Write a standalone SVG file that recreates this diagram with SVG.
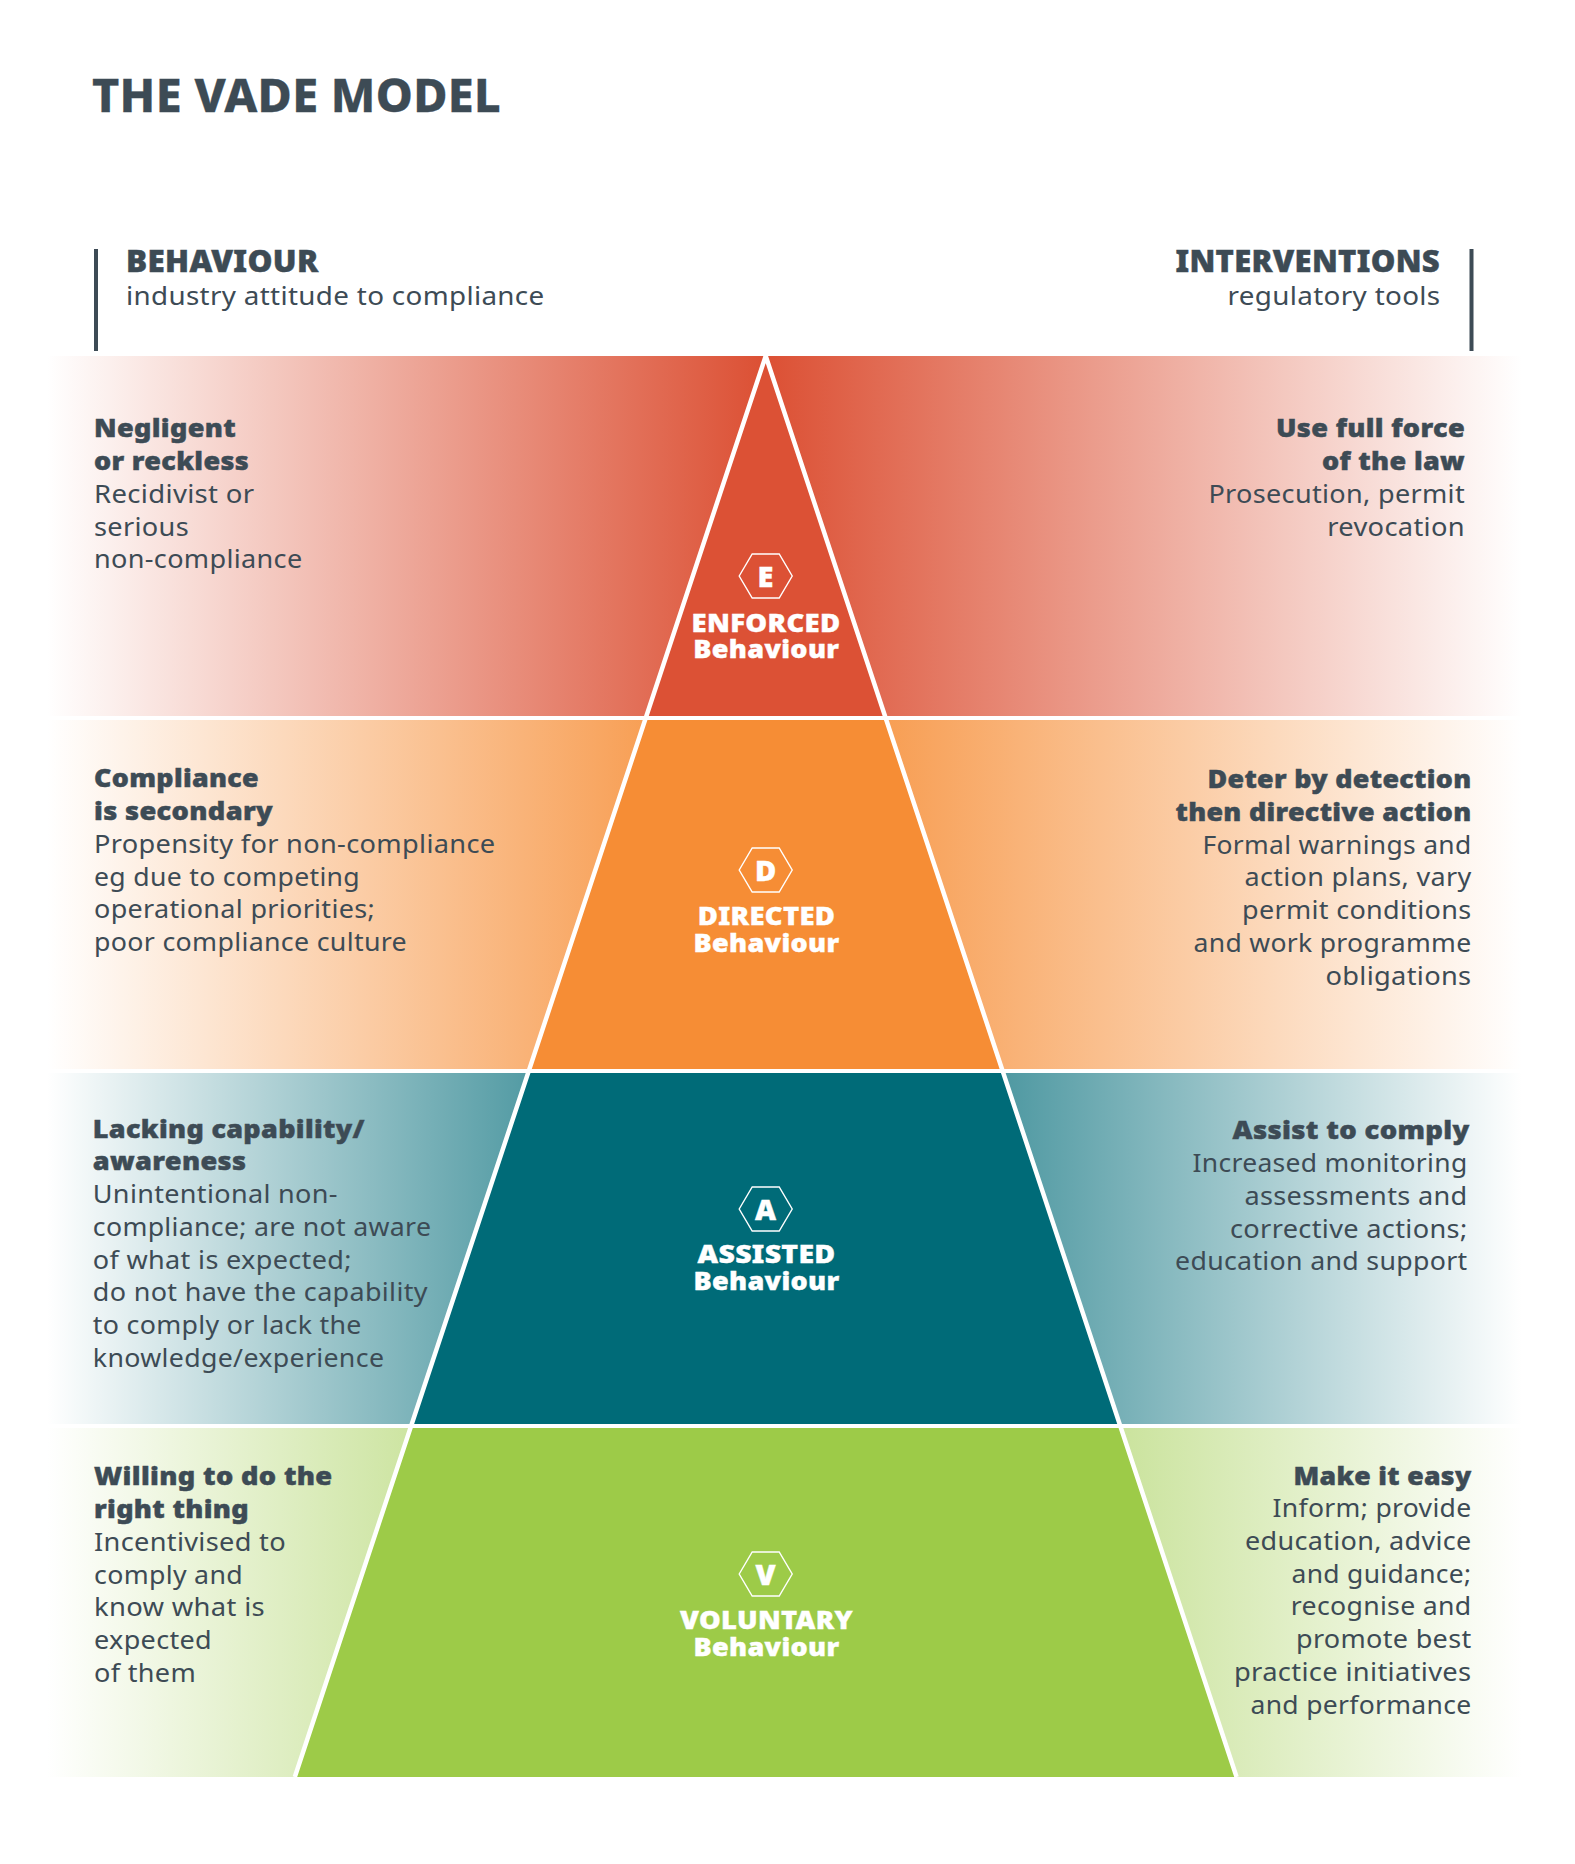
<svg xmlns="http://www.w3.org/2000/svg" width="1575" height="1864" viewBox="0 0 1575 1864">
<style>
text{font-family:"Noto Sans","Open Sans","Liberation Sans",sans-serif;fill:#3d4b55;font-size:25px;letter-spacing:.3px}
.h{font-weight:900;stroke:#3d4b55;stroke-width:.45px}
.e{text-anchor:end}
.c{text-anchor:middle;fill:#fff;stroke:#fff;stroke-width:.4px;font-weight:900;font-size:25.5px}
.l{font-size:29px}
.hex{fill:none;stroke:#fff;stroke-width:1.4}
</style>
<defs>
<linearGradient id="rl" gradientUnits="userSpaceOnUse" x1="47" x2="760" y1="0" y2="0"><stop offset="0" stop-color="#dc5135" stop-opacity="0"/><stop offset="1" stop-color="#dc5135"/></linearGradient>
<linearGradient id="rr" gradientUnits="userSpaceOnUse" x1="1522" x2="771" y1="0" y2="0"><stop offset="0" stop-color="#dc5135" stop-opacity="0"/><stop offset="1" stop-color="#dc5135"/></linearGradient>
<linearGradient id="ol" gradientUnits="userSpaceOnUse" x1="47" x2="760" y1="0" y2="0"><stop offset="0" stop-color="#f68d35" stop-opacity="0"/><stop offset="1" stop-color="#f68d35"/></linearGradient>
<linearGradient id="or" gradientUnits="userSpaceOnUse" x1="1522" x2="771" y1="0" y2="0"><stop offset="0" stop-color="#f68d35" stop-opacity="0"/><stop offset="1" stop-color="#f68d35"/></linearGradient>
<linearGradient id="tl" gradientUnits="userSpaceOnUse" x1="47" x2="760" y1="0" y2="0"><stop offset="0" stop-color="#006b78" stop-opacity="0"/><stop offset="1" stop-color="#006b78"/></linearGradient>
<linearGradient id="tr" gradientUnits="userSpaceOnUse" x1="1522" x2="771" y1="0" y2="0"><stop offset="0" stop-color="#006b78" stop-opacity="0"/><stop offset="1" stop-color="#006b78"/></linearGradient>
<linearGradient id="gl" gradientUnits="userSpaceOnUse" x1="47" x2="760" y1="0" y2="0"><stop offset="0" stop-color="#9dcb48" stop-opacity="0"/><stop offset="1" stop-color="#9dcb48"/></linearGradient>
<linearGradient id="gr" gradientUnits="userSpaceOnUse" x1="1522" x2="771" y1="0" y2="0"><stop offset="0" stop-color="#9dcb48" stop-opacity="0"/><stop offset="1" stop-color="#9dcb48"/></linearGradient>
<polygon id="hx" class="hex" points="-26.5,0 -13.5,-22 13.5,-22 26.5,0 13.5,22 -13.5,22"/>
</defs>
<rect width="1575" height="1864" fill="#fff"/>
<text id="title" x="92" y="112" style="font-size:46px;font-weight:800;stroke:#3d4b55;stroke-width:.3px" textLength="409" lengthAdjust="spacingAndGlyphs">THE VADE MODEL</text>
<g id="header-behaviour">
<rect x="94" y="249" width="4" height="102" fill="#3d4b55"/>
<text class="h" x="126" y="272" style="font-size:30.5px" textLength="192.5" lengthAdjust="spacingAndGlyphs">BEHAVIOUR</text>
<text x="126" y="305" textLength="418.5" lengthAdjust="spacingAndGlyphs">industry attitude to compliance</text>
</g>
<g id="header-interventions">
<rect x="1469.5" y="249" width="4" height="102" fill="#3d4b55"/>
<text class="h e" x="1440" y="272" style="font-size:30.5px" textLength="264.5" lengthAdjust="spacingAndGlyphs">INTERVENTIONS</text>
<text class="e" x="1440.5" y="304.5" textLength="213" lengthAdjust="spacingAndGlyphs">regulatory tools</text>
</g>
<g id="enforced">
<rect x="47" y="356" width="719" height="360" fill="url(#rl)"/>
<rect x="766" y="356" width="756" height="360" fill="url(#rr)"/>
<polygon points="765.7,356 884.9,716 646.5,716" fill="#dc5135"/>
<use href="#hx" x="765.7" y="576"/>
<text class="c" x="765.7" y="586.8" style="font-size:29px">E</text>
<text class="c" x="766" y="631.5" textLength="149" lengthAdjust="spacingAndGlyphs">ENFORCED</text>
<text class="c" x="766.3" y="658" textLength="146" lengthAdjust="spacingAndGlyphs">Behaviour</text>
<text class="h" x="94" y="437" textLength="142" lengthAdjust="spacingAndGlyphs">Negligent</text>
<text class="h" x="94" y="469.5" textLength="155" lengthAdjust="spacingAndGlyphs">or reckless</text>
<text x="94" y="502.5" textLength="160.5" lengthAdjust="spacingAndGlyphs">Recidivist or</text>
<text x="94" y="535.5" textLength="95" lengthAdjust="spacingAndGlyphs">serious</text>
<text x="94" y="568" textLength="208.5" lengthAdjust="spacingAndGlyphs">non-compliance</text>
<text class="h e" x="1465" y="437" textLength="189" lengthAdjust="spacingAndGlyphs">Use full force</text>
<text class="h e" x="1465" y="469.5" textLength="143" lengthAdjust="spacingAndGlyphs">of the law</text>
<text class="e" x="1465" y="502.5" textLength="256.6" lengthAdjust="spacingAndGlyphs">Prosecution, permit</text>
<text class="e" x="1465" y="535.5" textLength="137.8" lengthAdjust="spacingAndGlyphs">revocation</text>
</g>
<g id="directed">
<rect x="47" y="720" width="719" height="349" fill="url(#ol)"/>
<rect x="766" y="720" width="756" height="349" fill="url(#or)"/>
<polygon points="645.2,720 886.2,720 1001.7,1069 529.7,1069" fill="#f68d35"/>
<use href="#hx" x="765.7" y="870"/>
<text class="c" x="765.7" y="880.5" style="font-size:29px">D</text>
<text class="c" x="766.5" y="924.8" textLength="137.5" lengthAdjust="spacingAndGlyphs">DIRECTED</text>
<text class="c" x="766.5" y="951.5" textLength="146" lengthAdjust="spacingAndGlyphs">Behaviour</text>
<text class="h" x="94" y="787" textLength="165" lengthAdjust="spacingAndGlyphs">Compliance</text>
<text class="h" x="94" y="820" textLength="179" lengthAdjust="spacingAndGlyphs">is secondary</text>
<text x="94" y="853" textLength="401.5" lengthAdjust="spacingAndGlyphs">Propensity for non-compliance</text>
<text x="94" y="885.5" textLength="266" lengthAdjust="spacingAndGlyphs">eg due to competing</text>
<text x="94" y="918" textLength="281" lengthAdjust="spacingAndGlyphs">operational priorities;</text>
<text x="94" y="951" textLength="313" lengthAdjust="spacingAndGlyphs">poor compliance culture</text>
<text class="h e" x="1471.5" y="788" textLength="264" lengthAdjust="spacingAndGlyphs">Deter by detection</text>
<text class="h e" x="1471.5" y="821" textLength="296" lengthAdjust="spacingAndGlyphs">then directive action</text>
<text class="e" x="1471.5" y="854" textLength="269" lengthAdjust="spacingAndGlyphs">Formal warnings and</text>
<text class="e" x="1471.5" y="886" textLength="227" lengthAdjust="spacingAndGlyphs">action plans, vary</text>
<text class="e" x="1471.5" y="919" textLength="229.5" lengthAdjust="spacingAndGlyphs">permit conditions</text>
<text class="e" x="1471.5" y="952" textLength="278" lengthAdjust="spacingAndGlyphs">and work programme</text>
<text class="e" x="1471.5" y="985" textLength="146" lengthAdjust="spacingAndGlyphs">obligations</text>
</g>
<g id="assisted">
<rect x="47" y="1073" width="719" height="351" fill="url(#tl)"/>
<rect x="766" y="1073" width="756" height="351" fill="url(#tr)"/>
<polygon points="528.4,1073 1003,1073 1119.2,1424 412.2,1424" fill="#006b78"/>
<use href="#hx" x="765.7" y="1209"/>
<text class="c" x="765.7" y="1219.5" style="font-size:29px">A</text>
<text class="c" x="766.5" y="1262.7" textLength="138" lengthAdjust="spacingAndGlyphs">ASSISTED</text>
<text class="c" x="766.5" y="1290" textLength="146" lengthAdjust="spacingAndGlyphs">Behaviour</text>
<text class="h" x="92.8" y="1138" textLength="272" lengthAdjust="spacingAndGlyphs">Lacking capability/</text>
<text class="h" x="92.8" y="1170" textLength="153.5" lengthAdjust="spacingAndGlyphs">awareness</text>
<text x="92.8" y="1203" textLength="245" lengthAdjust="spacingAndGlyphs">Unintentional non-</text>
<text x="92.8" y="1236" textLength="338.5" lengthAdjust="spacingAndGlyphs">compliance; are not aware</text>
<text x="92.8" y="1268.5" textLength="259" lengthAdjust="spacingAndGlyphs">of what is expected;</text>
<text x="92.8" y="1301" textLength="335" lengthAdjust="spacingAndGlyphs">do not have the capability</text>
<text x="92.8" y="1334" textLength="269" lengthAdjust="spacingAndGlyphs">to comply or lack the</text>
<text x="92.8" y="1367" textLength="291.5" lengthAdjust="spacingAndGlyphs">knowledge/experience</text>
<text class="h e" x="1469.6" y="1139" textLength="237" lengthAdjust="spacingAndGlyphs">Assist to comply</text>
<text class="e" x="1467.5" y="1172" textLength="275" lengthAdjust="spacingAndGlyphs">Increased monitoring</text>
<text class="e" x="1467.5" y="1204.5" textLength="223" lengthAdjust="spacingAndGlyphs">assessments and</text>
<text class="e" x="1467.5" y="1238" textLength="237.5" lengthAdjust="spacingAndGlyphs">corrective actions;</text>
<text class="e" x="1467.5" y="1270" textLength="292.5" lengthAdjust="spacingAndGlyphs">education and support</text>
</g>
<g id="voluntary">
<rect x="47" y="1428" width="719" height="349" fill="url(#gl)"/>
<rect x="766" y="1428" width="756" height="349" fill="url(#gr)"/>
<polygon points="410.9,1428 1120.5,1428 1236.6,1777 294.8,1777" fill="#9dcb48"/>
<use href="#hx" x="765.7" y="1574"/>
<text class="c" x="765.7" y="1584.5" style="font-size:29px">V</text>
<text class="c" x="766.5" y="1629.3" textLength="173" lengthAdjust="spacingAndGlyphs">VOLUNTARY</text>
<text class="c" x="766.5" y="1656" textLength="146" lengthAdjust="spacingAndGlyphs">Behaviour</text>
<text class="h" x="94" y="1485" textLength="238.5" lengthAdjust="spacingAndGlyphs">Willing to do the</text>
<text class="h" x="94" y="1517.5" textLength="155" lengthAdjust="spacingAndGlyphs">right thing</text>
<text x="94" y="1551" textLength="192" lengthAdjust="spacingAndGlyphs">Incentivised to</text>
<text x="94" y="1584" textLength="149" lengthAdjust="spacingAndGlyphs">comply and</text>
<text x="94" y="1616" textLength="171" lengthAdjust="spacingAndGlyphs">know what is</text>
<text x="94" y="1648.5" textLength="118" lengthAdjust="spacingAndGlyphs">expected</text>
<text x="94" y="1681.5" textLength="102" lengthAdjust="spacingAndGlyphs">of them</text>
<text class="h e" x="1471.5" y="1484.5" textLength="178" lengthAdjust="spacingAndGlyphs">Make it easy</text>
<text class="e" x="1471.5" y="1517" textLength="199" lengthAdjust="spacingAndGlyphs">Inform; provide</text>
<text class="e" x="1471.5" y="1549.5" textLength="226.5" lengthAdjust="spacingAndGlyphs">education, advice</text>
<text class="e" x="1471.5" y="1582.5" textLength="180" lengthAdjust="spacingAndGlyphs">and guidance;</text>
<text class="e" x="1471.5" y="1615" textLength="180.7" lengthAdjust="spacingAndGlyphs">recognise and</text>
<text class="e" x="1471.5" y="1648" textLength="175.5" lengthAdjust="spacingAndGlyphs">promote best</text>
<text class="e" x="1471.5" y="1681" textLength="237.5" lengthAdjust="spacingAndGlyphs">practice initiatives</text>
<text class="e" x="1471.5" y="1713.5" textLength="221" lengthAdjust="spacingAndGlyphs">and performance</text>
</g>
<g id="connectors">
<path d="M294.8 1777 L765.7 356 L1236.6 1777" fill="none" stroke="#fff" stroke-width="4.5" stroke-linejoin="miter"/>
</g>
</svg>
